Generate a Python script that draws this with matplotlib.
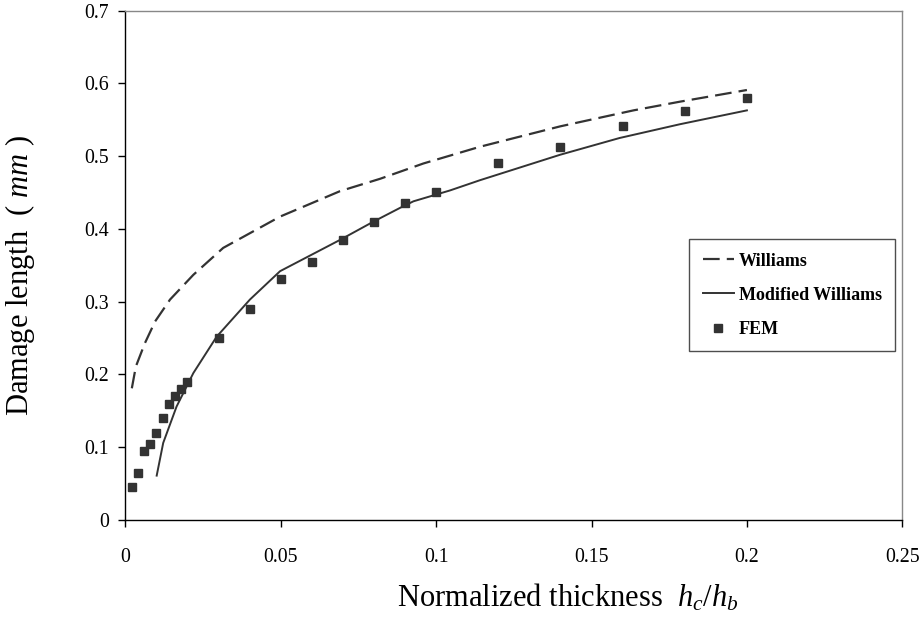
import matplotlib
matplotlib.use("Agg")
import matplotlib.pyplot as plt

plt.rcParams['font.family'] = ['Liberation Serif', 'DejaVu Serif']
plt.rcParams['mathtext.fontset'] = 'custom'
plt.rcParams['mathtext.rm'] = 'Liberation Serif'
plt.rcParams['mathtext.it'] = 'Liberation Serif:italic'

# Williams (dashed)
will_x = [0.0021, 0.0034, 0.0063, 0.0096, 0.0144, 0.0219, 0.0315, 0.0498, 0.0691,
          0.082, 0.0959, 0.1141, 0.1399, 0.1635, 0.1785, 0.2]
will_y = [0.181, 0.211, 0.243, 0.273, 0.303, 0.337, 0.374, 0.417, 0.452,
          0.469, 0.490, 0.513, 0.541, 0.563, 0.575, 0.591]

# Modified Williams (solid)
mod_x = [0.0101, 0.0122, 0.0165, 0.0219, 0.0294, 0.0401, 0.0498, 0.0691, 0.0798,
         0.0884, 0.0927, 0.1045, 0.1141, 0.1399, 0.159, 0.1785, 0.2]
mod_y = [0.061, 0.106, 0.156, 0.202, 0.252, 0.303, 0.342, 0.385, 0.410,
         0.429, 0.438, 0.453, 0.467, 0.502, 0.525, 0.544, 0.563]

# FEM points
fem_x = [0.002, 0.004, 0.006, 0.008, 0.010, 0.012, 0.014, 0.016, 0.018, 0.020,
         0.03, 0.04, 0.05, 0.06, 0.07, 0.08, 0.09, 0.10, 0.12, 0.14, 0.16, 0.18, 0.20]
fem_y = [0.045, 0.065, 0.095, 0.105, 0.12, 0.14, 0.16, 0.17, 0.18, 0.19,
         0.25, 0.29, 0.331, 0.355, 0.385, 0.41, 0.436, 0.451, 0.491, 0.512, 0.541, 0.562, 0.58]

x_ticks = [0, 0.05, 0.1, 0.15, 0.2, 0.25]
x_labels = ['0', '0.05', '0.1', '0.15', '0.2', '0.25']
y_ticks = [0, 0.1, 0.2, 0.3, 0.4, 0.5, 0.6, 0.7]
y_labels = ['0', '0.1', '0.2', '0.3', '0.4', '0.5', '0.6', '0.7']

fig = plt.figure(figsize=(9.21, 6.28), dpi=100)
ax = fig.add_axes([125.3 / 921, 1 - 520 / 628, (902.3 - 125.3) / 921, (520 - 10.7) / 628])

c = '#333333'
ax.plot(will_x, will_y, color=c, lw=1.6, dashes=(7.5, 3.2), label='Williams')
ax.plot(mod_x, mod_y, color=c, lw=1.4, label='Modified Williams')
ax.plot(fem_x, fem_y, ls='none', marker='s', ms=5.7, color=c, label='FEM')

ax.set_xlim(0, 0.25)
ax.set_ylim(0, 0.7)
ax.set_xticks(x_ticks)
ax.set_xticklabels(x_labels)
ax.set_yticks(y_ticks)
ax.set_yticklabels(y_labels)
ax.tick_params(direction='out', length=5, width=1, labelsize=14.3, colors='black', pad=7)
ax.tick_params(axis='x', pad=15)

for s in ['top', 'right']:
    ax.spines[s].set_color('#888888')
for s in ['left', 'bottom']:
    ax.spines[s].set_color('black')
for s in ax.spines.values():
    s.set_linewidth(1)

fig.text(20 / 921, 1 - 276 / 628, 'Damage length  ( $mm$ )', rotation=90,
         ha='center', va='center', fontsize=22)
fig.text(568 / 921, 1 - 598 / 628, 'Normalized thickness  $h_c/h_b$',
         ha='center', va='center', fontsize=22)

leg = ax.legend(loc='upper left', bbox_to_anchor=(689 / 921, 1 - 239 / 628),
                bbox_transform=fig.transFigure, borderaxespad=0,
                prop={'weight': 'bold', 'size': 13}, frameon=True, fancybox=False,
                handlelength=1.75, handletextpad=0.25, labelspacing=0.95, borderpad=0.75)
leg.get_frame().set_edgecolor('#222222')
leg.get_frame().set_linewidth(1)

fig.savefig('out.png', dpi=100)
